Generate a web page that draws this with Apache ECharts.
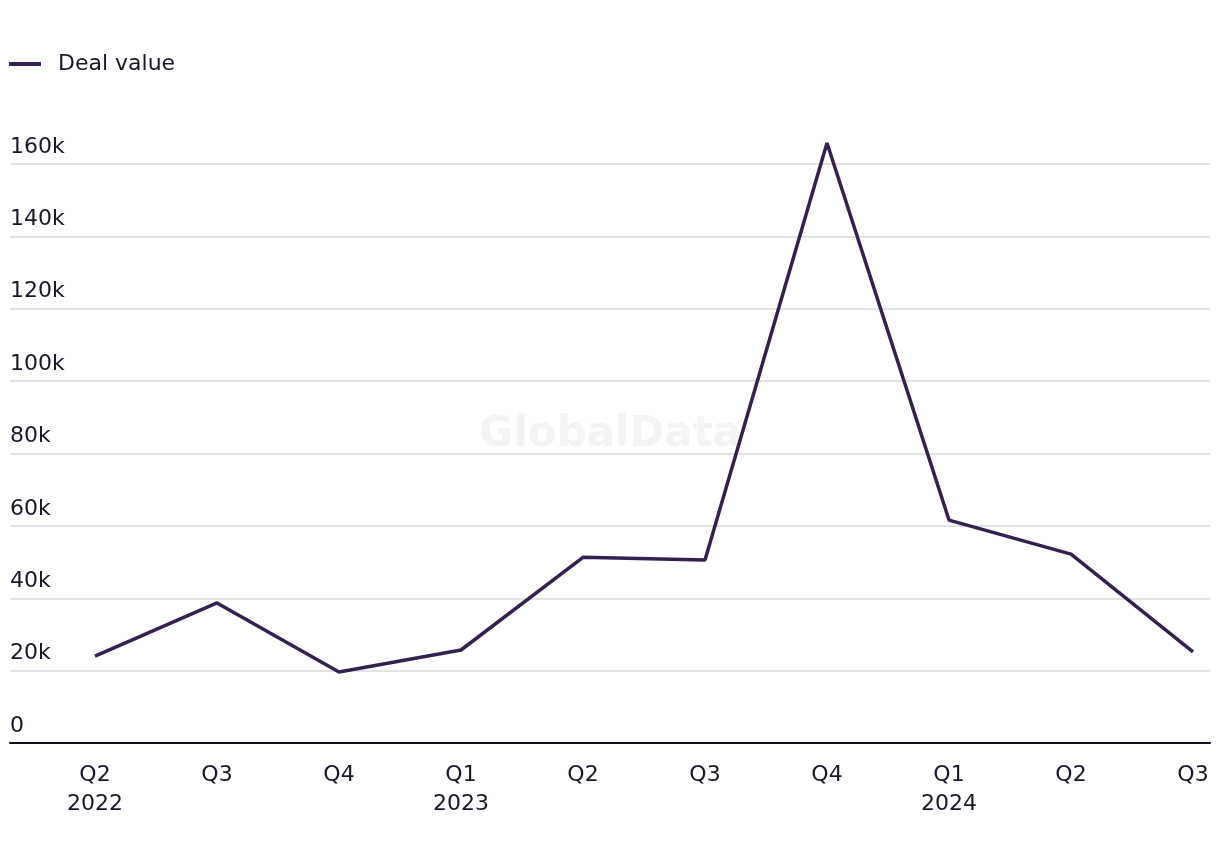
<!DOCTYPE html>
<html>
<head>
<meta charset="utf-8">
<script src="https://cdn.jsdelivr.net/npm/echarts@6/dist/echarts.min.js"></script>
<style>
  html, body { margin: 0; padding: 0; background: #fff; }
  #chart { width: 1220px; height: 864px; }
</style>
</head>
<body>
<div id="chart"></div>
<script>
const quarters = ['Q2\n2022', 'Q3', 'Q4', 'Q1\n2023', 'Q2', 'Q3', 'Q4', 'Q1\n2024', 'Q2', 'Q3']
const dealValue = [24000, 38700, 19600, 25700, 51300, 50600, 165800, 61600, 52200, 25200]
const yTicks = [0, 20000, 40000, 60000, 80000, 100000, 120000, 140000, 160000]

const textColor = '#1a1828'
const lineColor = '#35214f'
const font = '"DejaVu Sans", sans-serif'

const chart = echarts.init(document.getElementById('chart'))
chart.setOption({
  animation: false,
  textStyle: { fontFamily: font },
  legend: {
    left: 4,
    top: 48,
    itemWidth: 32,
    itemHeight: 4,
    itemGap: 10,
    textStyle: { color: textColor, fontSize: 22, fontFamily: font, padding: [0, 0, 0, 12] },
    data: [{ name: 'Deal value', icon: 'rect' }]
  },
  graphic: [{
    type: 'text',
    left: 'center',
    top: 414,
    z: 0,
    style: {
      text: 'GlobalData',
      fontSize: 42,
      fontWeight: 'bold',
      fontFamily: font,
      fill: '#f4f4f4'
    }
  }],
  grid: [
    { left: 10, right: 10, top: 164, bottom: 121 },
    { left: 95, right: 27, top: 164, bottom: 121 }
  ],
  xAxis: [{
    gridIndex: 0,
    type: 'value',
    min: 0,
    max: 1,
    axisLine: { show: true, lineStyle: { color: '#111122', width: 2 } },
    axisTick: { show: false },
    axisLabel: { show: false },
    splitLine: { show: false }
  }, {
    gridIndex: 1,
    type: 'category',
    boundaryGap: false,
    data: quarters,
    axisLine: { show: false },
    axisTick: { show: false },
    splitLine: { show: false },
    axisLabel: {
      color: textColor,
      fontSize: 22,
      lineHeight: 29,
      margin: 18,
      fontFamily: font,
      interval: 0
    }
  }],
  yAxis: [{
    gridIndex: 0,
    type: 'value',
    min: yTicks[0],
    max: yTicks[yTicks.length - 1],
    interval: yTicks[1] - yTicks[0],
    axisLine: { show: false },
    axisTick: { show: false },
    splitLine: { show: true, lineStyle: { color: '#d9d9d9', width: 1.5 } },
    axisLabel: {
      inside: true,
      margin: 0,
      verticalAlign: 'bottom',
      padding: [0, 0, 6, 0],
      color: textColor,
      fontSize: 22,
      fontFamily: font,
      formatter: v => v === 0 ? '0' : (v / 1000) + 'k'
    }
  }, {
    gridIndex: 1,
    type: 'value',
    min: yTicks[0],
    max: yTicks[yTicks.length - 1],
    show: false
  }],
  series: [{
    name: 'Deal value',
    type: 'line',
    xAxisIndex: 1,
    yAxisIndex: 1,
    data: dealValue,
    clip: false,
    showSymbol: false,
    symbol: 'none',
    color: lineColor,
    lineStyle: { color: lineColor, width: 3.5 },
    z: 5
  }]
})
</script>
</body>
</html>
